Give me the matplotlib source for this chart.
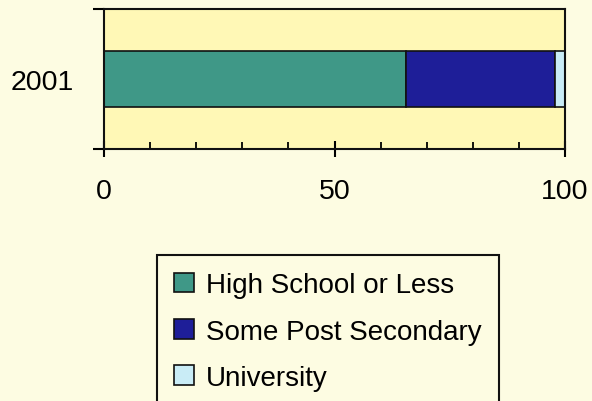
import numpy as np
import matplotlib.pyplot as plt
from matplotlib.ticker import MultipleLocator, FixedLocator

plt.rcParams['font.family'] = ['Liberation Sans', 'DejaVu Sans']

years = ['2001']
levels = ['High School or Less', 'Some Post Secondary', 'University']
shares = [65.5, 32.3, 2.2]
colors = ['#3f9887', '#1e1e98', '#c9ecf6']

fig = plt.figure(figsize=(5.92, 4.02), dpi=100, facecolor='#fdfce2')
ax = fig.add_axes([0.1757, 0.6269, 0.7787, 0.3483])
ax.set_facecolor('#fff8b6')

left = 0
for lev, val, c in zip(levels, shares, colors):
    ax.barh(0, val, left=left, height=0.4, color=c, edgecolor='#111111',
            linewidth=1.2, label=lev)
    left += val

ax.set_xlim(0, 100)
ax.set_ylim(-0.5, 0.5)

for s in ax.spines.values():
    s.set_linewidth(1.5)
    s.set_color('#111111')

ax.xaxis.set_major_locator(FixedLocator([0, 50, 100]))
ax.xaxis.set_minor_locator(MultipleLocator(10))
ax.tick_params(axis='x', which='major', direction='inout', length=12, width=1.5,
               labelsize=20.5, pad=15)
ax.tick_params(axis='x', which='minor', direction='in', length=5, width=1.3)

ax.set_yticks([0])
ax.set_yticklabels(years)
ax.yaxis.set_minor_locator(FixedLocator([-0.5, 0.5]))
ax.tick_params(axis='y', which='major', length=0, labelsize=20.5, pad=22)
ax.tick_params(axis='y', which='minor', direction='out', length=8, width=1.5)

# legend sits under the axes, bottom edge runs off the figure
leg = fig.legend(loc='upper left', bbox_to_anchor=(157 / 592, 1 - 256 / 402),
                 fontsize=20, frameon=True, fancybox=False, edgecolor='#111111',
                 facecolor='#fdfce2', framealpha=1, handlelength=0.72,
                 handleheight=0.72, handletextpad=0.43, labelspacing=0.73,
                 borderpad=0.62, borderaxespad=0)
leg.get_frame().set_linewidth(1.5)

fig.savefig('out.png', dpi=100, facecolor=fig.get_facecolor())
